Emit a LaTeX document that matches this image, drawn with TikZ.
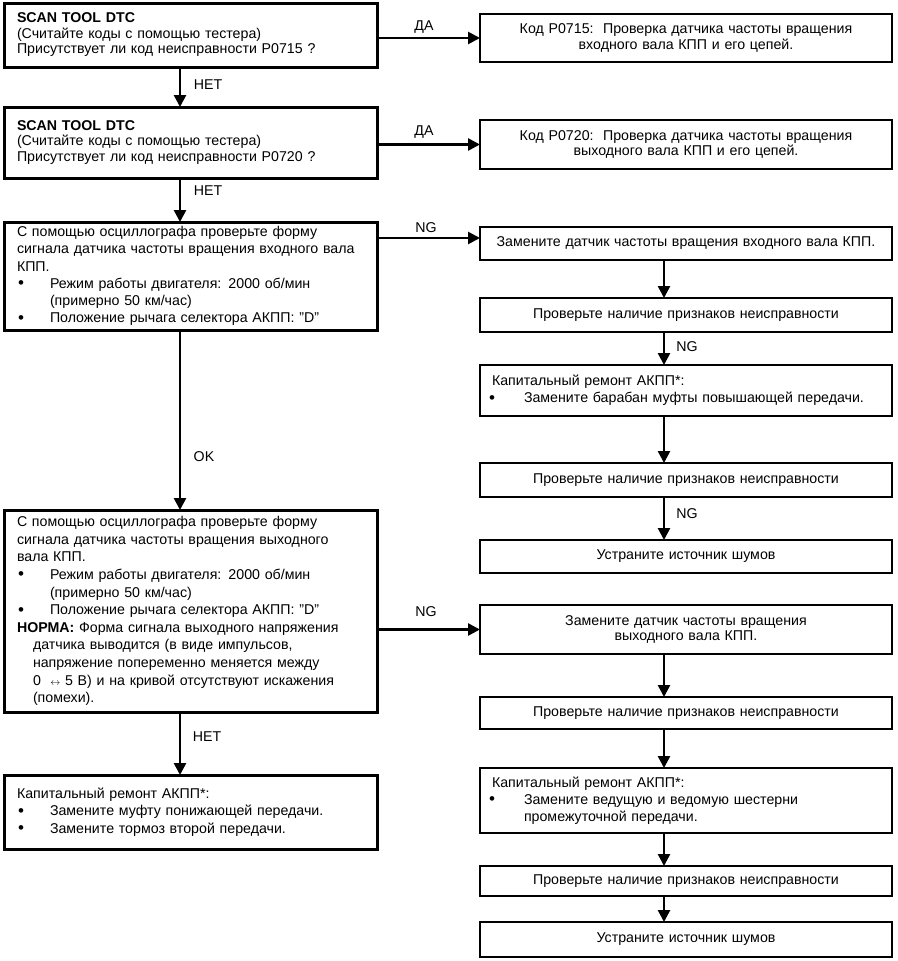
\documentclass[tikz,border=0pt]{standalone}
\usepackage{fontspec}
\setmainfont{Liberation Sans}
\usetikzlibrary{arrows.meta}
\newcommand{\bdot}{\raisebox{-0.5pt}{\fontsize{17}{17}\selectfont\textbullet}}
\newcommand{\lbul}[1]{\par\hangindent=33pt\hangafter=1\noindent\makebox[33pt][l]{\hspace{1pt}\bdot}#1\par}
\newcommand{\rbul}[1]{\par\hangindent=32pt\hangafter=1\noindent\makebox[32pt][l]{\hspace{-3pt}\bdot}#1\par}
\begin{document}
\begin{tikzpicture}[x=1pt,y=-1pt,
  every node/.style={font=\fontsize{14.2}{15.5}\selectfont},
  lbox/.style={draw,line width=3pt,rectangle,anchor=north west,outer sep=0pt,inner xsep=13pt,inner ysep=0pt,minimum width=373pt,text width=347pt,align=left},
  rbox/.style={draw,line width=2pt,rectangle,anchor=north west,outer sep=0pt,inner xsep=12pt,inner ysep=0pt,minimum width=412pt,text width=388pt,align=center},
  rboxl/.style={rbox,align=left},
  sp/.style={font=\fontsize{14.2}{17.2}\selectfont},
  conn/.style={line width=2.6pt,-{Triangle[length=12pt,width=12pt]}},
  lab/.style={inner sep=0pt}]
\useasboundingbox (0,0) rectangle (897,961);
% left column
\node[lbox,minimum height=64pt] (b1) at (4,3) {\textbf{SCAN TOOL DTC}\newline(Считайте коды с помощью тестера)\newline Присутствует ли код неисправности P0715 ?};
\node[lbox,minimum height=71pt] (b2) at (4,107) {\textbf{SCAN TOOL DTC}\newline(Считайте коды с помощью тестера)\newline Присутствует ли код неисправности P0720 ?};
\node[lbox,sp,minimum height=108pt] (b3) at (4,222) {\noindent С помощью осциллографа проверьте форму\newline сигнала датчика частоты вращения входного вала\newline КПП.\lbul{Режим работы двигателя: 2000 об/мин\newline (примерно 50 км/час)}\lbul{Положение рычага селектора АКПП: "D"}};
\node[lbox,font=\fontsize{14.2}{17.6}\selectfont,minimum height=202pt] (b4) at (4,510) {\noindent С помощью осциллографа проверьте форму\newline сигнала датчика частоты вращения выходного\newline вала КПП.\lbul{Режим работы двигателя: 2000 об/мин\newline (примерно 50 км/час)}\lbul{Положение рычага селектора АКПП: "D"}\par\hangindent=16pt\hangafter=1\noindent\textbf{НОРМА:} Форма сигнала выходного напряжения\newline датчика выводится (в виде импульсов,\newline напряжение попеременно меняется между\newline 0 \ {\fontsize{10}{10}\selectfont$\leftrightarrow$} 5 В) и на кривой отсутствуют искажения\newline (помехи).\par};
\node[lbox,sp,minimum height=74pt] (b5) at (4,775) {\noindent Капитальный ремонт АКПП*:\lbul{Замените муфту понижающей передачи.}\lbul{Замените тормоз второй передачи.}};
% right column
\node[rbox,minimum height=48pt] (r1) at (480,14) {Код P0715:\ \ Проверка датчика частоты вращения\\входного вала КПП и его цепей.};
\node[rbox,minimum height=49pt] (r2) at (480,120) {Код P0720:\ \ Проверка датчика частоты вращения\\выходного вала КПП и его цепей.};
\node[rbox,minimum height=33pt] (r3) at (480,227) {Замените датчик частоты вращения входного вала КПП.};
\node[rbox,minimum height=34pt] (r4) at (480,298) {Проверьте наличие признаков неисправности};
\node[rboxl,sp,minimum height=51pt] (r5) at (480,365) {\noindent Капитальный ремонт АКПП*:\rbul{Замените барабан муфты повышающей передачи.}};
\node[rbox,minimum height=34pt] (r6) at (480,463) {Проверьте наличие признаков неисправности};
\node[rbox,minimum height=33pt] (r7) at (480,540) {Устраните источник шумов};
\node[rbox,minimum height=49pt] (r8) at (480,605) {Замените датчик частоты вращения\\выходного вала КПП.};
\node[rbox,minimum height=32pt] (r9) at (480,697) {Проверьте наличие признаков неисправности};
\node[rboxl,sp,minimum height=65pt] (r10) at (480,768) {\noindent Капитальный ремонт АКПП*:\rbul{Замените ведущую и ведомую шестерни\newline промежуточной передачи.}};
\node[rbox,minimum height=30pt] (r11) at (480,866) {Проверьте наличие признаков неисправности};
\node[rbox,minimum height=35pt] (r12) at (480,922) {Устраните источник шумов};
% guide coordinates
\coordinate (lx) at (180,0);
\coordinate (rx) at (664,0);
\coordinate (ng1) at (480,238);
% left connectors
\draw[conn] (b1.south -| lx) -- (b2.north -| lx);
\draw[conn] (b2.south -| lx) -- (b3.north -| lx);
\draw[conn] (b3.south -| lx) -- (b4.north -| lx);
\draw[conn] (b4.south -| lx) -- (b5.north -| lx);
% horizontal connectors
\draw[conn] (b1.east |- r1.west) -- (r1.west);
\draw[conn] (b2.east |- r2.west) -- (r2.west);
\draw[conn] (b3.east |- ng1) -- (ng1);
\draw[conn] (b4.east |- r8.west) -- (r8.west);
% right connectors
\draw[conn] (r3.south -| rx) -- (r4.north -| rx);
\draw[conn] (r4.south -| rx) -- (r5.north -| rx);
\draw[conn] (r5.south -| rx) -- (r6.north -| rx);
\draw[conn] (r6.south -| rx) -- (r7.north -| rx);
\draw[conn] (r8.south -| rx) -- (r9.north -| rx);
\draw[conn] (r9.south -| rx) -- (r10.north -| rx);
\draw[conn] (r10.south -| rx) -- (r11.north -| rx);
\draw[conn] (r11.south -| rx) -- (r12.north -| rx);
% labels
\node[lab] (t1) at (208,85) {НЕТ};
\node[lab] (t2) at (208,191) {НЕТ};
\node[lab] (t3) at (204,457) {OK};
\node[lab] (t4) at (207,737) {НЕТ};
\node[lab] (t5) at (424,27) {ДА};
\node[lab] (t6) at (424,132) {ДА};
\node[lab] (t7) at (426,228) {NG};
\node[lab] (t8) at (426,612) {NG};
\node[lab] (t9) at (687,347) {NG};
\node[lab] (t10) at (687,514) {NG};
\end{tikzpicture}
\end{document}
